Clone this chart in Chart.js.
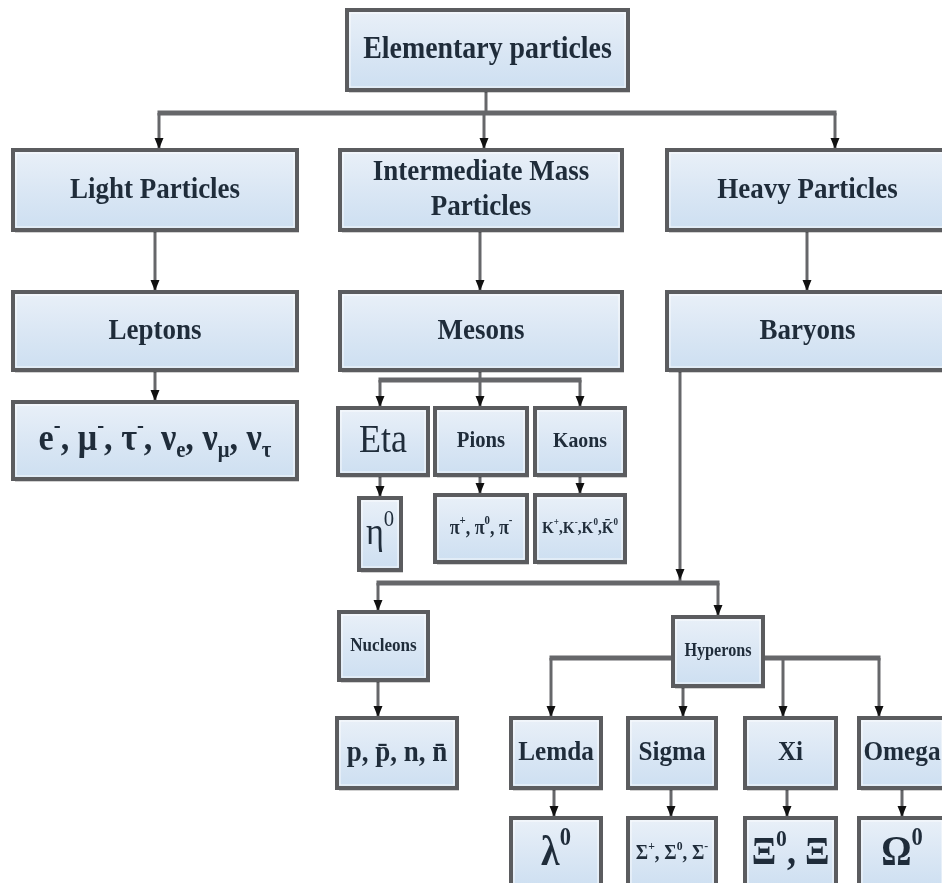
<!DOCTYPE html>
<html>
<head>
<meta charset="utf-8">
<script src="https://cdn.jsdelivr.net/npm/chart.js@4/dist/chart.umd.min.js"></script>
<style>
  html, body { margin: 0; padding: 0; background: #fff; overflow: hidden; }
  #tree { display: block; }
</style>
</head>
<body>
<canvas id="tree" width="942" height="883"></canvas>
<script>
// Node labels (^{..} = superscript, _{..} = subscript)
const nodeLabels = [
    'Elementary particles',
    'Light Particles',
    'Intermediate Mass\nParticles',
    'Heavy Particles',
    'Leptons',
    'Mesons',
    'Baryons',
    'e^{-}, μ^{-}, τ^{-}, ν_{e}, ν_{μ}, ν_{τ}',
    'Eta',
    'Pions',
    'Kaons',
    'η^{0}',
    'π^{+}, π^{0}, π^{-}',
    'K^{+},K^{-},K^{0},K̄^{0}',
    'Nucleons',
    'Hyperons',
    'p, p̄, n, n̄',
    'Lemda',
    'Sigma',
    'Xi',
    'Omega',
    'λ^{0}',
    'Σ^{+}, Σ^{0}, Σ^{-}',
    'Ξ^{0}, Ξ',
    'Ω^{0}'
];

// parent -> children links
const linkParent = [0, 1, 2, 3, 4, 5, 6, 8, 9, 10, 14, 15, 17, 18, 19, 20];
const linkChildren = [[1, 2, 3], [4], [5], [6], [7], [8, 9, 10], [14, 15], [11], [12], [13], [16], [17, 18, 19, 20], [21], [22], [23], [24]];

// ---- layout (axis units, same as the 942 x 883 page) ----
const boxLeft   = [347, 13, 340, 667, 13, 340, 667, 13, 338, 435, 535, 359, 435, 535, 339, 673, 337, 511, 628, 745, 859, 511, 628, 745, 859];
const boxRight  = [628, 297, 622, 948, 297, 622, 948, 297, 428, 527, 625, 401, 527, 625, 428, 763, 457, 601, 716, 836, 945, 601, 716, 836, 945];
const boxTop    = [10, 150, 150, 150, 292, 292, 292, 402, 408, 408, 408, 498, 495, 495, 612, 617, 718, 718, 718, 718, 718, 818, 818, 818, 818];
const boxBottom = [90, 230, 230, 230, 370, 370, 370, 479, 475, 475, 475, 570, 562, 562, 680, 686, 788, 788, 788, 788, 788, 890, 890, 890, 890];
const fontSize  = [31, 30, 30, 30, 30, 30, 30, 38, 40, 23, 22, 38, 20, 17, 19, 18, 30, 28, 28, 28, 28, 42, 21, 40, 42];
const fontBold  = [1, 1, 1, 1, 1, 1, 1, 1, 0, 1, 1, 0, 1, 1, 1, 1, 1, 1, 1, 1, 1, 1, 1, 1, 1];
const lineGap = 35;
const squeeze = 0.9;

const linkExitX = [486, 155, 480, 807, 155, 480, 680, 380, 480, 580, 378, 718, 554, 671, 787, 902];
const linkBusY  = [113, 260, 260, 260, 386, 380, 583, 486, 485, 485, 699, 658, 803, 803, 803, 803];
const linkDropX = [[159, 484, 835], [155], [480], [807], [155], [380, 480, 580], [378, 718], [380], [480], [580], [378], [551, 683, 783, 879], [554], [671], [787], [902]];
const trunkArrow = [6];

const LINE = '#66676a';
const BORDER = '#5b5c5f';
const TEXT = '#1f2c3a';

function parseRich(str) {
    const parts = [];
    const re = /([\^_])\{([^}]*)\}/g;
    let last = 0, m;
    while ((m = re.exec(str)) !== null) {
        if (m.index > last) parts.push({ t: str.slice(last, m.index), k: 'n' });
        parts.push({ t: m[2], k: m[1] === '^' ? 'sup' : 'sub' });
        last = re.lastIndex;
    }
    if (last < str.length) parts.push({ t: str.slice(last), k: 'n' });
    return parts;
}

function drawRich(ctx, str, cx, cy, size, bold) {
    const parts = parseRich(str);
    const w = bold ? 'bold ' : '';
    const fam = '"Liberation Serif", "DejaVu Serif", serif';
    const fontFor = k => w + Math.round(k === 'n' ? size : size * 0.6) + 'px ' + fam;
    let total = 0;
    parts.forEach(p => { ctx.font = fontFor(p.k); p.w = ctx.measureText(p.t).width; total += p.w; });
    ctx.save();
    ctx.translate(cx, cy);
    ctx.scale(squeeze, 1);
    let x = -total / 2;
    ctx.textBaseline = 'middle';
    ctx.textAlign = 'left';
    parts.forEach(p => {
        ctx.font = fontFor(p.k);
        let y = 0;
        if (p.k === 'sup') y = -size * 0.36;
        if (p.k === 'sub') y = size * 0.28;
        ctx.fillText(p.t, x, y);
        x += p.w;
    });
    ctx.restore();
}

function arrowHead(ctx, x, y) {
    ctx.beginPath();
    ctx.moveTo(x, y);
    ctx.lineTo(x - 4.5, y - 11);
    ctx.lineTo(x + 4.5, y - 11);
    ctx.closePath();
    ctx.fillStyle = '#111';
    ctx.fill();
}

const treePlugin = {
    id: 'treePlugin',
    beforeDraw(chart) {
        const ctx = chart.ctx;
        ctx.save();
        ctx.fillStyle = '#fff';
        ctx.fillRect(0, 0, chart.width, chart.height);
        ctx.restore();
    },
    afterDatasetsDraw(chart) {
        const ctx = chart.ctx;
        const xs = chart.scales.x, ys = chart.scales.y;
        const px = v => xs.getPixelForValue(v);
        const py = v => ys.getPixelForValue(v);
        ctx.save();

        // connectors first, boxes are painted over them
        ctx.strokeStyle = LINE;
        ctx.lineCap = 'butt';
        linkParent.forEach((p, i) => {
            const bus = linkBusY[i];
            const kids = linkChildren[i];
            const drops = linkDropX[i];
            const exitX = linkExitX[i];
            const startY = Math.min(boxBottom[p], bus);
            ctx.lineWidth = 3;
            ctx.beginPath();
            ctx.moveTo(px(exitX), py(startY));
            ctx.lineTo(px(exitX), py(bus));
            ctx.stroke();
            if (kids.length > 1 || drops[0] !== exitX) {
                const lo = Math.min(exitX, ...drops), hi = Math.max(exitX, ...drops);
                ctx.lineWidth = 5;
                ctx.beginPath();
                ctx.moveTo(px(lo) - 1.5, py(bus));
                ctx.lineTo(px(hi) + 1.5, py(bus));
                ctx.stroke();
            }
            if (trunkArrow.includes(p)) arrowHead(ctx, px(exitX), py(bus) - 3);
            kids.forEach((c, j) => {
                ctx.lineWidth = 3;
                ctx.beginPath();
                ctx.moveTo(px(drops[j]), py(bus));
                ctx.lineTo(px(drops[j]), py(boxTop[c]));
                ctx.stroke();
                arrowHead(ctx, px(drops[j]), py(boxTop[c]) - 1);
            });
        });

        // boxes and labels
        nodeLabels.forEach((label, i) => {
            const x0 = px(boxLeft[i]), x1 = px(boxRight[i]);
            const y0 = py(boxTop[i]), y1 = py(boxBottom[i]);
            const g = ctx.createLinearGradient(0, y0, 0, y1);
            g.addColorStop(0, '#e9f0f8');
            g.addColorStop(0.55, '#d9e6f4');
            g.addColorStop(1, '#cddff1');
            ctx.fillStyle = 'rgba(0,0,0,0.18)';
            ctx.fillRect(x0 + 2, y0 + 3, x1 - x0, y1 - y0);
            ctx.fillStyle = g;
            ctx.fillRect(x0, y0, x1 - x0, y1 - y0);
            ctx.lineWidth = 4;
            ctx.strokeStyle = BORDER;
            ctx.strokeRect(x0, y0, x1 - x0, y1 - y0);
            ctx.lineWidth = 1;
            ctx.strokeStyle = 'rgba(255,255,255,0.8)';
            ctx.strokeRect(x0 + 3, y0 + 3, x1 - x0 - 6, y1 - y0 - 6);

            ctx.fillStyle = TEXT;
            const lines = label.split('\n');
            const size = fontSize[i];
            const cx = (x0 + x1) / 2, cy = (y0 + y1) / 2;
            lines.forEach((ln, k) => {
                const y = cy + (k - (lines.length - 1) / 2) * lineGap;
                drawRich(ctx, ln, cx, y, size, fontBold[i]);
            });
        });
        ctx.restore();
    }
};

const ctx = document.getElementById('tree').getContext('2d');
new Chart(ctx, {
    type: 'scatter',
    data: {
        datasets: [{
            data: nodeLabels.map((l, i) => ({ x: (boxLeft[i] + boxRight[i]) / 2, y: (boxTop[i] + boxBottom[i]) / 2 })),
            pointRadius: 0
        }]
    },
    options: {
        responsive: false,
        animation: false,
        layout: { padding: 0 },
        scales: {
            x: { type: 'linear', min: 0, max: 942, display: false },
            y: { type: 'linear', min: 0, max: 883, reverse: true, display: false }
        },
        plugins: {
            legend: { display: false },
            tooltip: { enabled: false }
        }
    },
    plugins: [treePlugin]
});
</script>
</body>
</html>
